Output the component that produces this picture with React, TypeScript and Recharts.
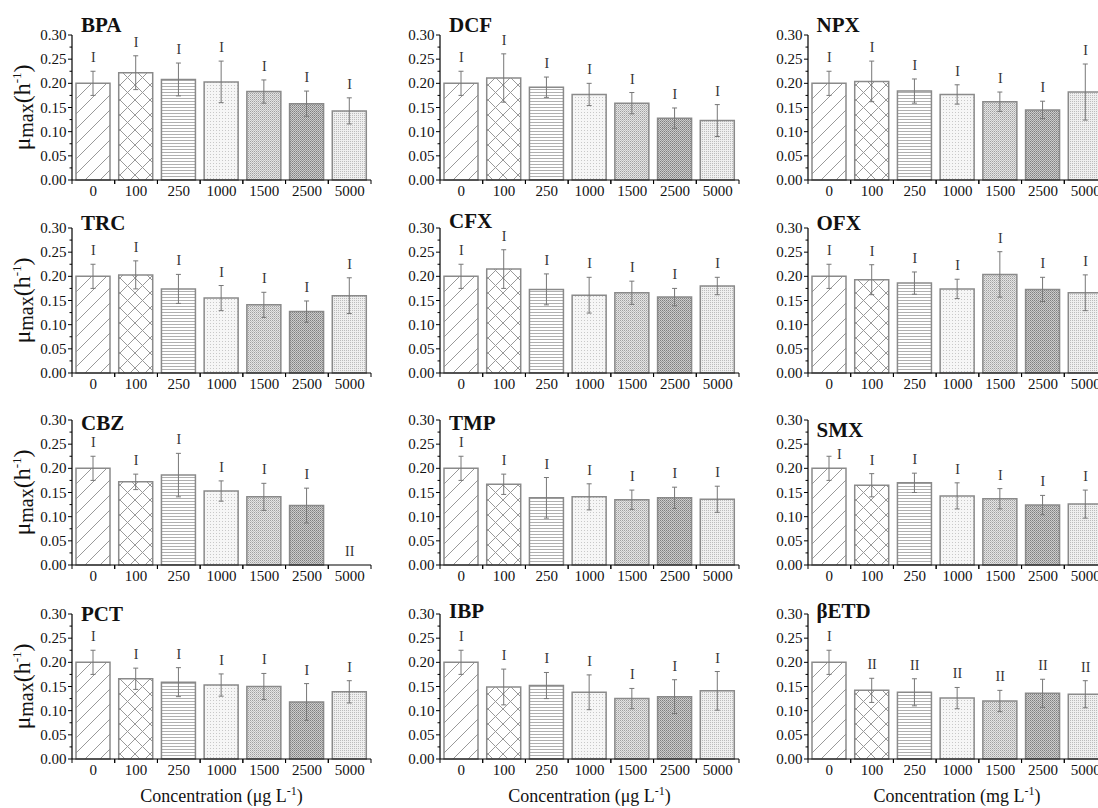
import React from "react";
import { ComposedChart, Bar, Line, XAxis, YAxis, ErrorBar, Cell, LabelList } from "recharts";

const concentrations = ["0", "100", "250", "1000", "1500", "2500", "5000"];

const bpaMean = [0.2, 0.222, 0.208, 0.203, 0.183, 0.158, 0.143];
const bpaErr = [0.025, 0.035, 0.034, 0.043, 0.024, 0.026, 0.027];
const dcfMean = [0.2, 0.211, 0.192, 0.177, 0.159, 0.128, 0.123];
const dcfErr = [0.025, 0.05, 0.021, 0.023, 0.022, 0.021, 0.033];
const npxMean = [0.2, 0.204, 0.184, 0.177, 0.162, 0.145, 0.182];
const npxErr = [0.025, 0.042, 0.025, 0.02, 0.02, 0.018, 0.058];
const trcMean = [0.2, 0.203, 0.174, 0.155, 0.141, 0.127, 0.16];
const trcErr = [0.025, 0.029, 0.03, 0.026, 0.026, 0.022, 0.037];
const cfxMean = [0.2, 0.215, 0.173, 0.161, 0.166, 0.157, 0.18];
const cfxErr = [0.025, 0.04, 0.032, 0.037, 0.024, 0.018, 0.018];
const ofxMean = [0.2, 0.193, 0.186, 0.174, 0.204, 0.173, 0.166];
const ofxErr = [0.025, 0.031, 0.023, 0.02, 0.047, 0.025, 0.037];
const cbzMean = [0.2, 0.172, 0.186, 0.153, 0.141, 0.123, 0];
const cbzErr = [0.025, 0.016, 0.045, 0.021, 0.028, 0.036, 0];
const tmpMean = [0.2, 0.167, 0.139, 0.141, 0.135, 0.139, 0.136];
const tmpErr = [0.025, 0.021, 0.042, 0.027, 0.02, 0.022, 0.027];
const smxMean = [0.2, 0.165, 0.17, 0.143, 0.137, 0.124, 0.126];
const smxErr = [0.025, 0.024, 0.02, 0.027, 0.021, 0.02, 0.029];
const pctMean = [0.2, 0.166, 0.159, 0.153, 0.15, 0.118, 0.139];
const pctErr = [0.025, 0.022, 0.03, 0.023, 0.027, 0.038, 0.023];
const ibpMean = [0.2, 0.149, 0.152, 0.138, 0.125, 0.129, 0.141];
const ibpErr = [0.025, 0.037, 0.027, 0.036, 0.021, 0.035, 0.04];
const betdMean = [0.2, 0.142, 0.138, 0.126, 0.12, 0.136, 0.134];
const betdErr = [0.025, 0.025, 0.028, 0.022, 0.022, 0.029, 0.028];

const sigSame = ["I", "I", "I", "I", "I", "I", "I"];
const cbzSig = ["I", "I", "I", "I", "I", "I", "II"];
const betdSig = ["I", "II", "II", "II", "II", "II", "II"];

const yTicks = [0, 0.025, 0.05, 0.075, 0.1, 0.125, 0.15, 0.175, 0.2, 0.225, 0.25, 0.275, 0.3];

const panels = [
  { name: "BPA", mean: bpaMean, err: bpaErr, sig: sigSame },
  { name: "DCF", mean: dcfMean, err: dcfErr, sig: sigSame },
  { name: "NPX", mean: npxMean, err: npxErr, sig: sigSame },
  { name: "TRC", mean: trcMean, err: trcErr, sig: sigSame },
  { name: "CFX", mean: cfxMean, err: cfxErr, sig: sigSame },
  { name: "OFX", mean: ofxMean, err: ofxErr, sig: sigSame },
  { name: "CBZ", mean: cbzMean, err: cbzErr, sig: cbzSig },
  { name: "TMP", mean: tmpMean, err: tmpErr, sig: sigSame },
  { name: "SMX", mean: smxMean, err: smxErr, sig: sigSame },
  { name: "PCT", mean: pctMean, err: pctErr, sig: sigSame },
  { name: "IBP", mean: ibpMean, err: ibpErr, sig: sigSame },
  { name: "\u03b2ETD", mean: betdMean, err: betdErr, sig: betdSig },
];

// layout
const AXIS_X = [72, 440, 807.5];
const PLOT_TOP = [35, 228, 420, 614];
const PLOT_W = 299;
const PLOT_H = 145;
const HALF = PLOT_W / 7 / 2;
const titleOffset = [-3, -3, -3, 2, 0, 2, 10, 10, 17, 7, 4, 4];
const SERIF = "'Liberation Serif', 'Times New Roman', Times, serif";

function YTick(props: any) {
  const { x, y, payload } = props;
  const v = payload.value;
  const major = Math.abs(Math.round(v / 0.05) * 0.05 - v) < 1e-6;
  return (
    <g>
      <line x1={x - (major ? 4 : 2.5)} x2={x} y1={y} y2={y} stroke="#000" strokeWidth={1} />
      {major && (
        <text x={x - 5.5} y={y + 5} textAnchor="end" fontSize={15} fontFamily={SERIF} fill="#111">
          {v.toFixed(2)}
        </text>
      )}
    </g>
  );
}

function XTick(props: any) {
  const { x, y, payload } = props;
  return (
    <g>
      <line x1={x - HALF} x2={x - HALF} y1={y} y2={y + 4} stroke="#000" strokeWidth={1} />
      <line x1={x + HALF} x2={x + HALF} y1={y} y2={y + 4} stroke="#000" strokeWidth={1} />
      <text x={x} y={y + 16} textAnchor="middle" fontSize={15} fontFamily={SERIF} fill="#111">
        {payload.value}
      </text>
    </g>
  );
}

function Patterns({ pid }: { pid: string }) {
  return (
    <defs>
      <pattern id={`${pid}-p0`} patternUnits="userSpaceOnUse" width={15} height={15}>
        <rect width={15} height={15} fill="#fff" />
        <path d="M-4,4 L4,-4 M0,15 L15,0 M11,19 L19,11" stroke="#999" strokeWidth={1} />
      </pattern>
      <pattern id={`${pid}-p1`} patternUnits="userSpaceOnUse" width={15} height={15}>
        <rect width={15} height={15} fill="#fff" />
        <path
          d="M-4,4 L4,-4 M0,15 L15,0 M11,19 L19,11 M-4,11 L4,19 M0,0 L15,15 M11,-4 L19,4"
          stroke="#999"
          strokeWidth={1}
        />
      </pattern>
      <pattern id={`${pid}-p2`} patternUnits="userSpaceOnUse" width={4} height={3}>
        <rect width={4} height={3} fill="#fff" />
        <rect y={1} width={4} height={1} fill="#b0b0b0" />
      </pattern>
      <pattern id={`${pid}-p3`} patternUnits="userSpaceOnUse" width={3} height={3}>
        <rect width={3} height={3} fill="#f6f6f6" />
        <rect width={1} height={1} fill="#c8c8c8" />
      </pattern>
      <pattern id={`${pid}-p4`} patternUnits="userSpaceOnUse" width={2} height={2}>
        <rect width={2} height={2} fill="#e4e4e4" />
        <rect width={1} height={1} fill="#a0a0a0" />
        <rect x={1} y={1} width={1} height={1} fill="#c0c0c0" />
      </pattern>
      <pattern id={`${pid}-p5`} patternUnits="userSpaceOnUse" width={2} height={2}>
        <rect width={2} height={2} fill="#cccccc" />
        <rect width={1} height={1} fill="#808080" />
        <rect x={1} y={1} width={1} height={1} fill="#9a9a9a" />
      </pattern>
      <pattern id={`${pid}-p6`} patternUnits="userSpaceOnUse" width={2} height={2}>
        <rect width={2} height={2} fill="#efefef" />
        <rect width={1} height={1} fill="#bcbcbc" />
      </pattern>
    </defs>
  );
}

function Panel({ idx }: { idx: number }) {
  const p = panels[idx];
  const col = idx % 3;
  const row = Math.floor(idx / 3);
  const data = concentrations.map((c, i) => ({ c, v: p.mean[i], e: p.err[i], s: p.sig[i] }));
  const pid = `pp${idx}`;
  // SMX: the first letter sits beside its error bar, below the title
  const beside = (i: number) => p.name === "SMX" && i === 0;
  const renderSig = (lp: any) => {
    const vb = lp.viewBox || {};
    let x = (lp.x ?? vb.x) + (vb.width || 0) / 2;
    let y = (lp.y ?? vb.y) - 9;
    if (x == null || isNaN(x)) return null;
    if (beside(lp.index)) {
      x += 10;
      y += 12;
    }
    return (
      <text x={x} y={y} textAnchor="middle" fontSize={14} fontFamily={SERIF} fill="#333">
        {lp.value}
      </text>
    );
  };
  return (
    <div style={{ position: "absolute", left: AXIS_X[col] - 72, top: PLOT_TOP[row] - 10 }}>
      <ComposedChart
        width={12 + 60 + PLOT_W + 10}
        height={10 + PLOT_H + 30}
        data={data}
        margin={{ top: 10, right: 10, left: 12, bottom: 0 }}
        barSize={34}
      >
        <Patterns pid={pid} />
        <XAxis
          dataKey="c"
          height={30}
          interval={0}
          tickSize={0}
          tickMargin={0}
          tickLine={false}
          axisLine={{ stroke: "#000", strokeWidth: 1.2 }}
          tick={<XTick />}
        />
        <YAxis
          width={60}
          type="number"
          domain={[0, 0.3]}
          ticks={yTicks}
          interval={0}
          tickSize={0}
          tickMargin={0}
          tickLine={false}
          axisLine={{ stroke: "#000", strokeWidth: 1.2 }}
          tick={<YTick />}
        />
        <Bar dataKey="v" isAnimationActive={false} stroke="#8a8a8a" strokeWidth={1.5}>
          {data.map((d, i) => (
            <Cell key={i} fill={`url(#${pid}-p${i})`} />
          ))}
          <ErrorBar dataKey="e" width={2.5} stroke="#777" strokeWidth={1} direction="y" isAnimationActive={false} />
        </Bar>
        <Line
          dataKey={(d: any) => d.v + d.e}
          stroke="none"
          dot={false}
          activeDot={false}
          legendType="none"
          isAnimationActive={false}
        >
          <LabelList dataKey="s" content={renderSig} />
        </Line>
      </ComposedChart>
    </div>
  );
}

export default function App() {
  return (
    <div
      style={{
        position: "absolute",
        left: 0,
        top: 0,
        width: 1098,
        height: 808,
        overflow: "hidden",
        background: "#fff",
        fontFamily: SERIF,
      }}
    >
      {panels.map((_, i) => (
        <Panel key={i} idx={i} />
      ))}
      <svg
        width={1098}
        height={808}
        style={{ position: "absolute", left: 0, top: 0, pointerEvents: "none" }}
      >
        {panels.map((p, i) => (
          <text
            key={p.name}
            x={AXIS_X[i % 3] + 9}
            y={PLOT_TOP[Math.floor(i / 3)] + titleOffset[i]}
            fontSize={21}
            fontWeight="bold"
            fontFamily={SERIF}
            fill="#111"
          >
            {p.name}
          </text>
        ))}
        {PLOT_TOP.map((t, r) => (
          <text
            key={r}
            transform={`translate(30,${t + PLOT_H / 2}) rotate(-90)`}
            textAnchor="middle"
            fontSize={24}
            fontFamily={SERIF}
            fill="#111"
          >
            μ<tspan fontSize={20} dy={3}>max</tspan>
            <tspan dy={-3}>(h</tspan>
            <tspan fontSize={13} dy={-9}>-1</tspan>
            <tspan dy={9}>)</tspan>
          </text>
        ))}
        {AXIS_X.map((x, c) => (
          <text
            key={c}
            x={x + PLOT_W / 2}
            y={802}
            textAnchor="middle"
            fontSize={18}
            fontFamily={SERIF}
            fill="#111"
          >
            {c === 2 ? "Concentration (mg L" : "Concentration (μg L"}
            <tspan fontSize={12} dy={-7}>-1</tspan>
            <tspan dy={7}>)</tspan>
          </text>
        ))}
      </svg>
    </div>
  );
}
